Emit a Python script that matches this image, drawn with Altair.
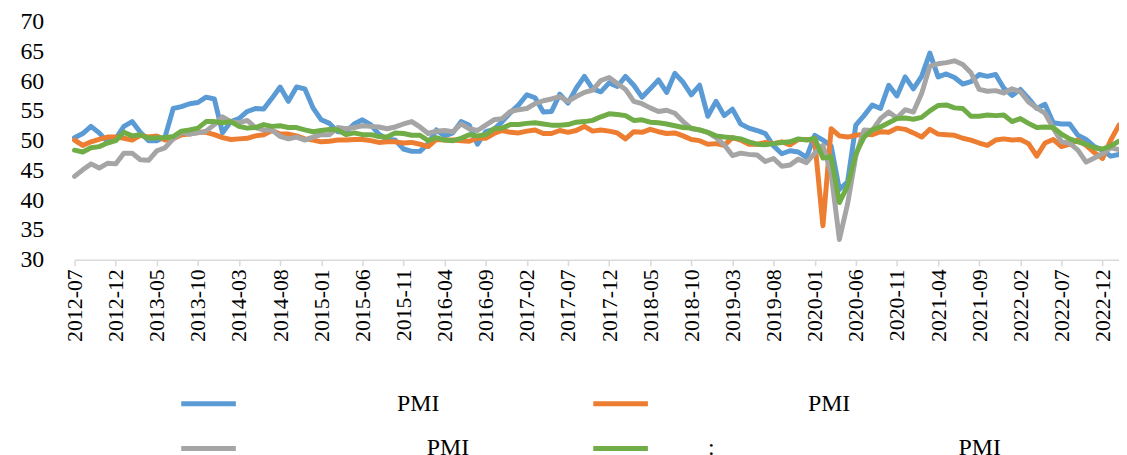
import altair as alt
import pandas as pd

# Monthly categories 2012-07 .. 2023-02 (128 months)
months = list(pd.period_range("2012-07", periods=128, freq="M").strftime("%Y-%m"))
tick_labels = months[::5]
y_ticks = [30, 35, 40, 45, 50, 55, 60, 65, 70]

ZW = "\u200b"
EM = "\u2003"
names = [
    ZW + EM * 6 + "\u00a0PMI",
    ZW + EM * 6 + "\u2009PMI",
    ZW + EM * 7 + "\u2002PMI",
    ZW + EM * 2 + ":" + EM * 10 + "\u00a0PMI",
]
colors = ["#5B9BD5", "#ED7D31", "#A5A5A5", "#70AD47"]

blue = [50.5, 51.2, 52.4, 51.3, 49.8, 50.3, 52.4, 53.2, 51.4, 50.0, 50.0, 50.6,
        55.4, 55.7, 56.2, 56.4, 57.3, 57.0, 51.3, 53.2, 53.7, 54.9, 55.4, 55.3,
        57.1, 59.0, 56.6, 59.0, 58.7, 55.5, 53.5, 52.9, 51.5, 51.5, 52.8, 53.5,
        52.7, 51.1, 50.2, 50.1, 48.6, 48.2, 48.2, 49.5, 51.8, 50.8, 51.3, 53.2,
        52.6, 49.4, 51.5, 51.9, 53.2, 54.7, 56.0, 57.7, 57.2, 54.8, 54.9, 57.8,
        56.3, 58.8, 60.8, 58.7, 58.2, 59.7, 59.1, 60.8, 59.3, 57.3, 58.7, 60.2,
        58.1, 61.3, 59.8, 57.7, 59.3, 54.1, 56.6, 54.2, 55.3, 52.8, 52.1, 51.7,
        51.2, 49.1, 47.8, 48.3, 48.1, 47.2, 50.9, 50.1, 49.1, 41.8, 43.1, 52.6,
        54.2, 56.0, 55.4, 59.3, 57.5, 60.7, 58.7, 60.8, 64.7, 60.7, 61.2, 60.6,
        59.5, 59.9, 61.1, 60.8, 61.1, 58.8, 57.6, 58.6, 57.1, 55.4, 56.1, 53.0,
        52.8, 52.8, 50.9, 50.2, 49.0, 48.4, 47.4, 47.7]

orange = [50.1, 49.2, 49.8, 50.2, 50.6, 50.6,
          50.4, 50.1, 50.9, 50.6, 50.8, 50.1, 50.3, 51.0, 51.1, 51.4, 51.4, 51.0,
          50.5, 50.2, 50.3, 50.4, 50.8, 51.0, 51.7, 51.1, 51.1, 50.8, 50.3, 50.1,
          49.8, 49.9, 50.1, 50.1, 50.2, 50.2, 50.0, 49.7, 49.8, 49.8, 49.6, 49.7,
          49.4, 49.0, 50.2, 50.1, 50.1, 50.0, 49.9, 50.4, 50.4, 51.2, 51.7, 51.4,
          51.3, 51.6, 51.8, 51.2, 51.2, 51.7, 51.4, 51.7, 52.4, 51.6, 51.8, 51.6,
          51.3, 50.3, 51.5, 51.4, 51.9, 51.5, 51.2, 51.3, 50.8, 50.2, 50.0, 49.4,
          49.5, 49.2, 50.5, 50.1, 49.4, 49.4, 49.7, 49.5, 49.8, 49.3, 50.2, 50.2,
          50.0, 35.7, 52.0, 50.8, 50.6, 50.9, 51.1, 51.0, 51.5, 51.4, 52.1, 51.9,
          51.3, 50.6, 51.9, 51.1, 51.0, 50.9, 50.4, 50.1, 49.6, 49.2, 50.1, 50.3,
          50.1, 50.2, 49.5, 47.4, 49.6, 50.2, 49.0, 49.4, 50.1, 49.2, 48.0, 47.0,
          50.1, 52.6]

gray = [44.0, 45.1, 46.1, 45.4, 46.2, 46.1,
        47.9, 47.9, 46.8, 46.7, 48.3, 48.8, 50.3, 51.4, 51.1, 51.3, 51.6, 52.7,
        54.0, 53.2, 53.0, 53.4, 52.2, 51.8, 51.8, 50.7, 50.3, 50.6, 50.1, 50.6,
        51.0, 51.0, 52.2, 52.0, 52.2, 52.5, 52.4, 52.3, 52.0, 52.3, 52.8, 53.2,
        52.3, 51.2, 51.6, 51.7, 51.5, 52.8, 52.0, 51.7, 52.6, 53.5, 53.7, 54.9,
        55.2, 55.4, 56.2, 56.7, 57.0, 57.4, 56.6, 57.4, 58.1, 58.5, 60.1, 60.6,
        59.6, 58.6, 56.6, 56.2, 55.5, 54.9, 55.1, 54.6, 53.2, 52.0, 51.8, 51.4,
        50.5, 49.3, 47.5, 47.9, 47.7, 47.6, 46.5, 47.0, 45.7, 45.9, 46.9, 46.3,
        47.9, 49.2, 44.5, 33.4, 39.4, 47.4, 51.8, 51.7, 53.7, 54.8, 53.8, 55.2,
        54.8, 57.9, 62.5, 62.9, 63.1, 63.4, 62.8, 61.4, 58.6, 58.3, 58.4, 58.0,
        58.7, 58.2, 56.5, 55.5, 54.6, 52.1, 49.8, 49.6, 48.4, 46.4, 47.1, 47.8,
        48.8, 48.5]

green = [48.4, 48.1, 48.8, 49.0, 49.6, 50.0,
         51.4, 50.8, 51.0, 50.4, 50.5, 50.5, 50.7, 51.6, 51.8, 52.1, 53.2, 53.2,
         53.0, 53.2, 52.4, 52.1, 52.2, 52.7, 52.4, 52.5, 52.2, 52.2, 51.8, 51.5,
         51.7, 51.9, 51.8, 51.0, 51.3, 51.0, 51.0, 50.7, 50.6, 51.3, 51.2, 50.9,
         50.9, 50.0, 50.5, 50.1, 50.0, 50.4, 51.0, 50.8, 51.0, 52.0, 52.1, 52.7,
         52.7, 52.9, 53.0, 52.8, 52.6, 52.6, 52.7, 53.1, 53.2, 53.4, 54.0, 54.5,
         54.4, 54.2, 53.4, 53.5, 53.1, 53.0, 52.8, 52.5, 52.2, 52.1, 51.8, 51.4,
         50.8, 50.6, 50.5, 50.3, 49.8, 49.4, 49.3, 49.5, 49.7, 49.8, 50.3, 50.1,
         50.4, 47.1, 47.3, 39.6, 42.4, 47.8, 50.6, 51.8, 52.3, 53.0, 53.7, 53.8,
         53.6, 53.9, 55.0, 55.9, 56.0, 55.5, 55.4, 54.1, 54.1, 54.3, 54.2, 54.3,
         53.2, 53.7, 52.9, 52.2, 52.3, 52.2, 51.1, 50.3, 49.8, 49.4, 48.8, 48.6,
         49.1, 49.9]

rows = []
for name, vals in zip(names, [blue, orange, gray, green]):
    for m, v in zip(months, vals):
        rows.append({"month": m, "series": name, "value": v})
df = pd.DataFrame(rows)

FONT = "Liberation Serif"

chart = alt.Chart(df).mark_line(
    strokeWidth=5, strokeJoin="round", strokeCap="round"
).encode(
    x=alt.X("month:O",
            scale=alt.Scale(type="point", padding=0, domain=months),
            axis=alt.Axis(values=tick_labels, labelAngle=-90, title=None,
                          labelFont=FONT, labelFontSize=22, labelColor="black",
                          domainColor="#D9D9D9", domainWidth=1.5,
                          tickColor="#D9D9D9", tickWidth=1.5, tickSize=6,
                          labelPadding=3, grid=False)),
    y=alt.Y("value:Q",
            scale=alt.Scale(domain=[30, 70], nice=False, zero=False),
            axis=alt.Axis(values=y_ticks, title=None, domain=False, ticks=False,
                          tickSize=0, grid=False, labelFont=FONT, labelFontSize=24,
                          labelColor="black", labelPadding=31)),
    color=alt.Color("series:N",
                    scale=alt.Scale(domain=names, range=colors),
                    legend=alt.Legend(title=None, orient="none", legendX=105, legendY=373,
                                      direction="horizontal", columns=2,
                                      symbolType="stroke", symbolSize=3025,
                                      symbolStrokeWidth=5, labelFont=FONT, labelFontSize=24,
                                      labelColor="black", labelOffset=10, labelLimit=600,
                                      clipHeight=24, rowPadding=21, columnPadding=122,
                                      padding=0, symbolOffset=0)),
).properties(
    width=1052, height=240,
    autosize=alt.AutoSizeParams(type="none"),
    padding={"left": 67, "top": 12, "right": 0, "bottom": 195},
    background="white",
).configure_view(stroke=None)

chart.save("out.html", embed_options={"renderer": "svg", "actions": False})
